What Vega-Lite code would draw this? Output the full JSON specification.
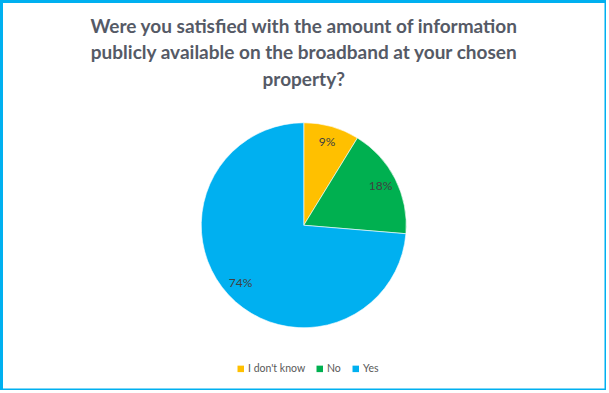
{
  "$schema": "https://vega.github.io/schema/vega-lite/v6.json",
  "width": 604.5,
  "height": 388.5,
  "autosize": "none",
  "padding": {"left": 1.5, "top": 1.5, "right": 0, "bottom": 0},
  "background": "#ffffff",
  "view": {"stroke": "#00B0F0", "strokeWidth": 3},
  "title": {
    "text": ["Were you satisfied with the amount of information", "publicly available on the broadband  at your chosen", "property?"],
    "font": "Lato",
    "fontSize": 19,
    "fontWeight": "bold",
    "color": "#555a66",
    "lineHeight": 26.5,
    "anchor": "middle",
    "frame": "group",
    "offset": -88
  },
  "data": {
    "values": [
      {"answer": "I don't know", "count": 5, "label": "9%", "idx": 1},
      {"answer": "No", "count": 10, "label": "18%", "idx": 2},
      {"answer": "Yes", "count": 42, "label": "74%", "idx": 3}
    ]
  },
  "encoding": {
    "theta": {"field": "count", "type": "quantitative", "stack": true},
    "order": {"field": "idx", "type": "quantitative"}
  },
  "layer": [
    {
      "mark": {"type": "arc", "radius": 102.5, "yOffset": 29.5, "stroke": "#ffffff", "strokeWidth": 0.6},
      "encoding": {
        "color": {
          "field": "answer",
          "type": "nominal",
          "sort": ["I don't know", "No", "Yes"],
          "scale": {"domain": ["I don't know", "No", "Yes"], "range": ["#FFC000", "#00B050", "#00B0F0"]},
          "legend": {
            "title": null,
            "orient": "none",
            "direction": "horizontal",
            "legendX": 234,
            "legendY": 362,
            "symbolType": "square",
            "symbolSize": 42,
            "symbolStrokeWidth": 0,
            "labelFont": "Lato",
            "labelFontSize": 10.5,
            "labelColor": "#595959",
            "labelOffset": 2,
            "columnPadding": 9
          }
        }
      }
    },
    {
      "mark": {"type": "text", "radius": 86, "yOffset": 29.5, "font": "Lato", "fontSize": 12, "color": "#404040"},
      "encoding": {
        "text": {"field": "label", "type": "nominal"}
      }
    }
  ]
}
